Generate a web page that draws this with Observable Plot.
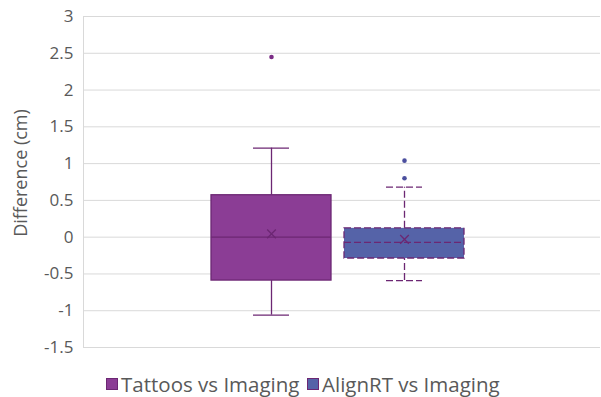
<!DOCTYPE html>
<html>
<head>
<meta charset="utf-8">
<script src="https://cdn.jsdelivr.net/npm/d3@7"></script>
<script src="https://cdn.jsdelivr.net/npm/@observablehq/plot@0.6"></script>
<style>
  html, body { margin: 0; padding: 0; background: #fff; }
  body { width: 601px; height: 397px; overflow: hidden; font-family: "Open Sans", sans-serif; }
  #legend { position: relative; height: 37px; }
  .item { position: absolute; top: 11px; display: flex; align-items: center; font-size: 20.5px; color: #595959; line-height: 26px; }
  .sw { width: 10px; height: 10px; margin-right: 3px; border: 1px solid; }
</style>
</head>
<body>
<div id="chart"></div>
<div id="legend"></div>
<script>
// Data (cm)
const series = ["Tattoos vs Imaging", "AlignRT vs Imaging"];
const lowerWhisker = [-1.06, -0.59];
const q1 = [-0.59, -0.29];
const median = [0.0, -0.07];
const q3 = [0.57, 0.12];
const upperWhisker = [1.21, 0.68];
const mean = [0.045, -0.03];
const outlierSeries = ["Tattoos vs Imaging", "AlignRT vs Imaging", "AlignRT vs Imaging"];
const outlierValues = [2.45, 0.80, 1.04];
const yTicks = [-1.5, -1, -0.5, 0, 0.5, 1, 1.5, 2, 2.5, 3];

const fills = ["#8b3d95", "#5563a8"];
const strokeC = "#6c2773";
const outlierColors = ["#7b2d86", "#4b4f9e"];

const stats = series.map((s, i) => ({
  s, lo: lowerWhisker[i], q1: q1[i], med: median[i], q3: q3[i], hi: upperWhisker[i], mean: mean[i],
  fill: fills[i], dash: i === 0 ? null : "7,3"
}));
const outliers = outlierSeries.map((s, i) => ({s, v: outlierValues[i], c: outlierColors[series.indexOf(s)]}));

const marks = [
  Plot.ruleY(yTicks, {stroke: "#d9d9d9", strokeWidth: 1}),
  Plot.axisY({ticks: yTicks, tickSize: 0, tickPadding: 10, tickFormat: d => String(d), fontSize: 17, color: "#595959", label: null}),
  Plot.text(["Difference (cm)"], {frameAnchor: "left", textAnchor: "middle", rotate: -90, dx: -62, dy: -9, fontSize: 18, fill: "#595959"})
];
for (const d of stats) {
  const dash = d.dash;
  marks.push(
    Plot.ruleX([d], {x: "s", y1: "q3", y2: "hi", stroke: strokeC, strokeWidth: 1.3, strokeDasharray: dash}),
    Plot.ruleX([d], {x: "s", y1: "lo", y2: "q1", stroke: strokeC, strokeWidth: 1.3, strokeDasharray: dash}),
    Plot.tickY([d], {x: "s", y: "hi", stroke: strokeC, strokeWidth: 1.3, insetLeft: 42, insetRight: 42, strokeDasharray: dash}),
    Plot.tickY([d], {x: "s", y: "lo", stroke: strokeC, strokeWidth: 1.3, insetLeft: 42, insetRight: 42, strokeDasharray: dash}),
    Plot.barY([d], {x: "s", y1: "q1", y2: "q3", fill: d.fill, stroke: strokeC, strokeWidth: 1.3, strokeDasharray: dash}),
    Plot.tickY([d], {x: "s", y: "med", stroke: strokeC, strokeWidth: 1.3, strokeDasharray: dash}),
    Plot.dot([d], {x: "s", y: "mean", symbol: "times", r: 4, stroke: strokeC, strokeWidth: 1.3})
  );
}
marks.push(Plot.dot(outliers, {x: "s", y: "v", r: 2.3, fill: d => d.c, stroke: null}));

const chart = Plot.plot({
  width: 601,
  height: 360,
  marginTop: 16,
  marginBottom: 13,
  marginLeft: 83,
  marginRight: 1,
  style: {fontFamily: "Open Sans, sans-serif", background: "#fff"},
  x: {domain: series, axis: null, paddingInner: 0.0977, paddingOuter: 0.992, align: 0.485},
  y: {domain: [-1.5, 3]},
  marks: [
    ...marks,
    Plot.frame({anchor: "left", stroke: "#d9d9d9"})
  ]
});
document.getElementById("chart").appendChild(chart);

const legend = document.getElementById("legend");
const lx = [106, 307];
series.forEach((s, i) => {
  const it = document.createElement("div");
  it.className = "item";
  it.style.left = lx[i] + "px";
  const sw = document.createElement("span");
  sw.className = "sw";
  sw.style.background = fills[i];
  sw.style.borderColor = strokeC;
  const t = document.createElement("span");
  t.textContent = s;
  it.appendChild(sw); it.appendChild(t);
  legend.appendChild(it);
});
</script>
</body>
</html>
